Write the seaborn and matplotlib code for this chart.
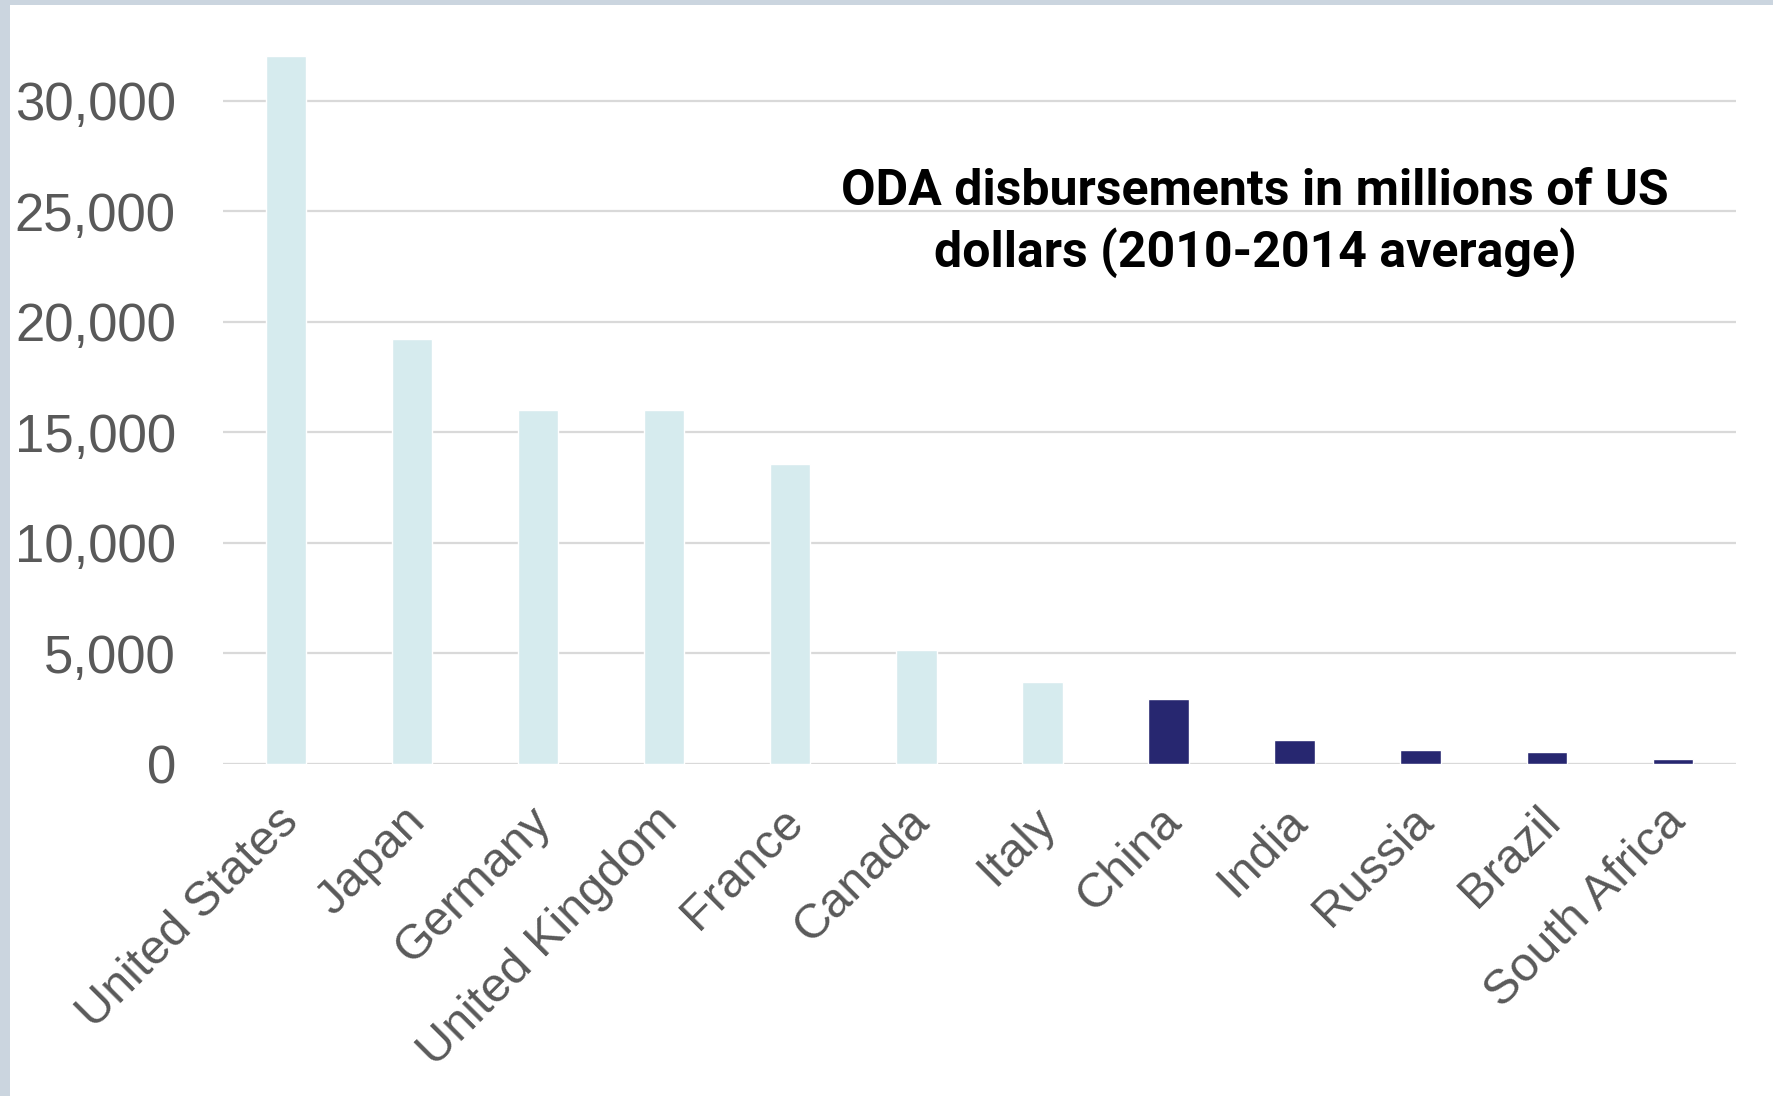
import matplotlib
matplotlib.use("Agg")
import matplotlib.pyplot as plt
import matplotlib.transforms as mtransforms
import seaborn as sns
import pandas as pd
from matplotlib.patches import Rectangle
from matplotlib.ticker import FuncFormatter

countries = ["United States", "Japan", "Germany", "United Kingdom", "France", "Canada",
             "Italy", "China", "India", "Russia", "Brazil", "South Africa"]
values = [32050, 19250, 16020, 16020, 13570, 5170, 3690, 2960, 1060, 610, 520, 200]
groups = ["DAC"] * 7 + ["BRICS"] * 5
palette = {"DAC": "#d6ebee", "BRICS": "#272770"}
title_lines = "ODA disbursements in millions of US\ndollars (2010-2014 average)"

df = pd.DataFrame({"country": countries, "value": values, "group": groups})

sns.set_theme(style="white")
plt.rcParams["font.family"] = ["Liberation Sans", "DejaVu Sans"]

fig = plt.figure(figsize=(17.73, 10.96), dpi=100)
ax = fig.add_axes([0.1258, 0.303, 0.8532, 0.6855])

sns.barplot(data=df, x="country", y="value", hue="group", palette=palette,
            dodge=False, width=0.32, legend=False, ax=ax, saturation=1)

ax.set_xlim(-0.5, 11.5)
ax.set_ylim(0, 34000)
ax.set_yticks(range(0, 30001, 5000))
ax.yaxis.set_major_formatter(FuncFormatter(lambda v, p: f"{int(v):,}"))
ax.grid(axis="y", color="#d9d9d9", linewidth=1.6)
ax.set_axisbelow(True)
for s in ax.spines.values():
    s.set_visible(False)
ax.axhline(0, color="#d9d9d9", linewidth=2.2, zorder=0)
ax.set_xlabel("")
ax.set_ylabel("")
ax.tick_params(axis="y", length=0, pad=34, labelsize=38, labelcolor="#595959")
ax.tick_params(axis="x", length=0, pad=25, labelsize=35, labelcolor="#595959")
shift = mtransforms.ScaledTranslation(-10 / 100, 0, fig.dpi_scale_trans)
for lbl in ax.get_xticklabels():
    lbl.set_rotation(45)
    lbl.set_ha("right")
    lbl.set_va("top")
    lbl.set_rotation_mode("anchor")
    lbl.set_transform(lbl.get_transform() + shift)

fig.text(0.708, 0.7964, title_lines, ha="center", va="center", fontsize=36,
         family=["Liberation Sans Narrow", "Roboto", "DejaVu Sans"], fontweight="bold",
         color="black", linespacing=1.3)

fig.patches.append(Rectangle((0, 0), 10 / 1773, 1, transform=fig.transFigure,
                             facecolor="#cbd5df", edgecolor="none", zorder=5))
fig.patches.append(Rectangle((0, 1 - 5 / 1096), 1, 5 / 1096, transform=fig.transFigure,
                             facecolor="#cbd5df", edgecolor="none", zorder=5))

fig.savefig("out.png", dpi=100)
